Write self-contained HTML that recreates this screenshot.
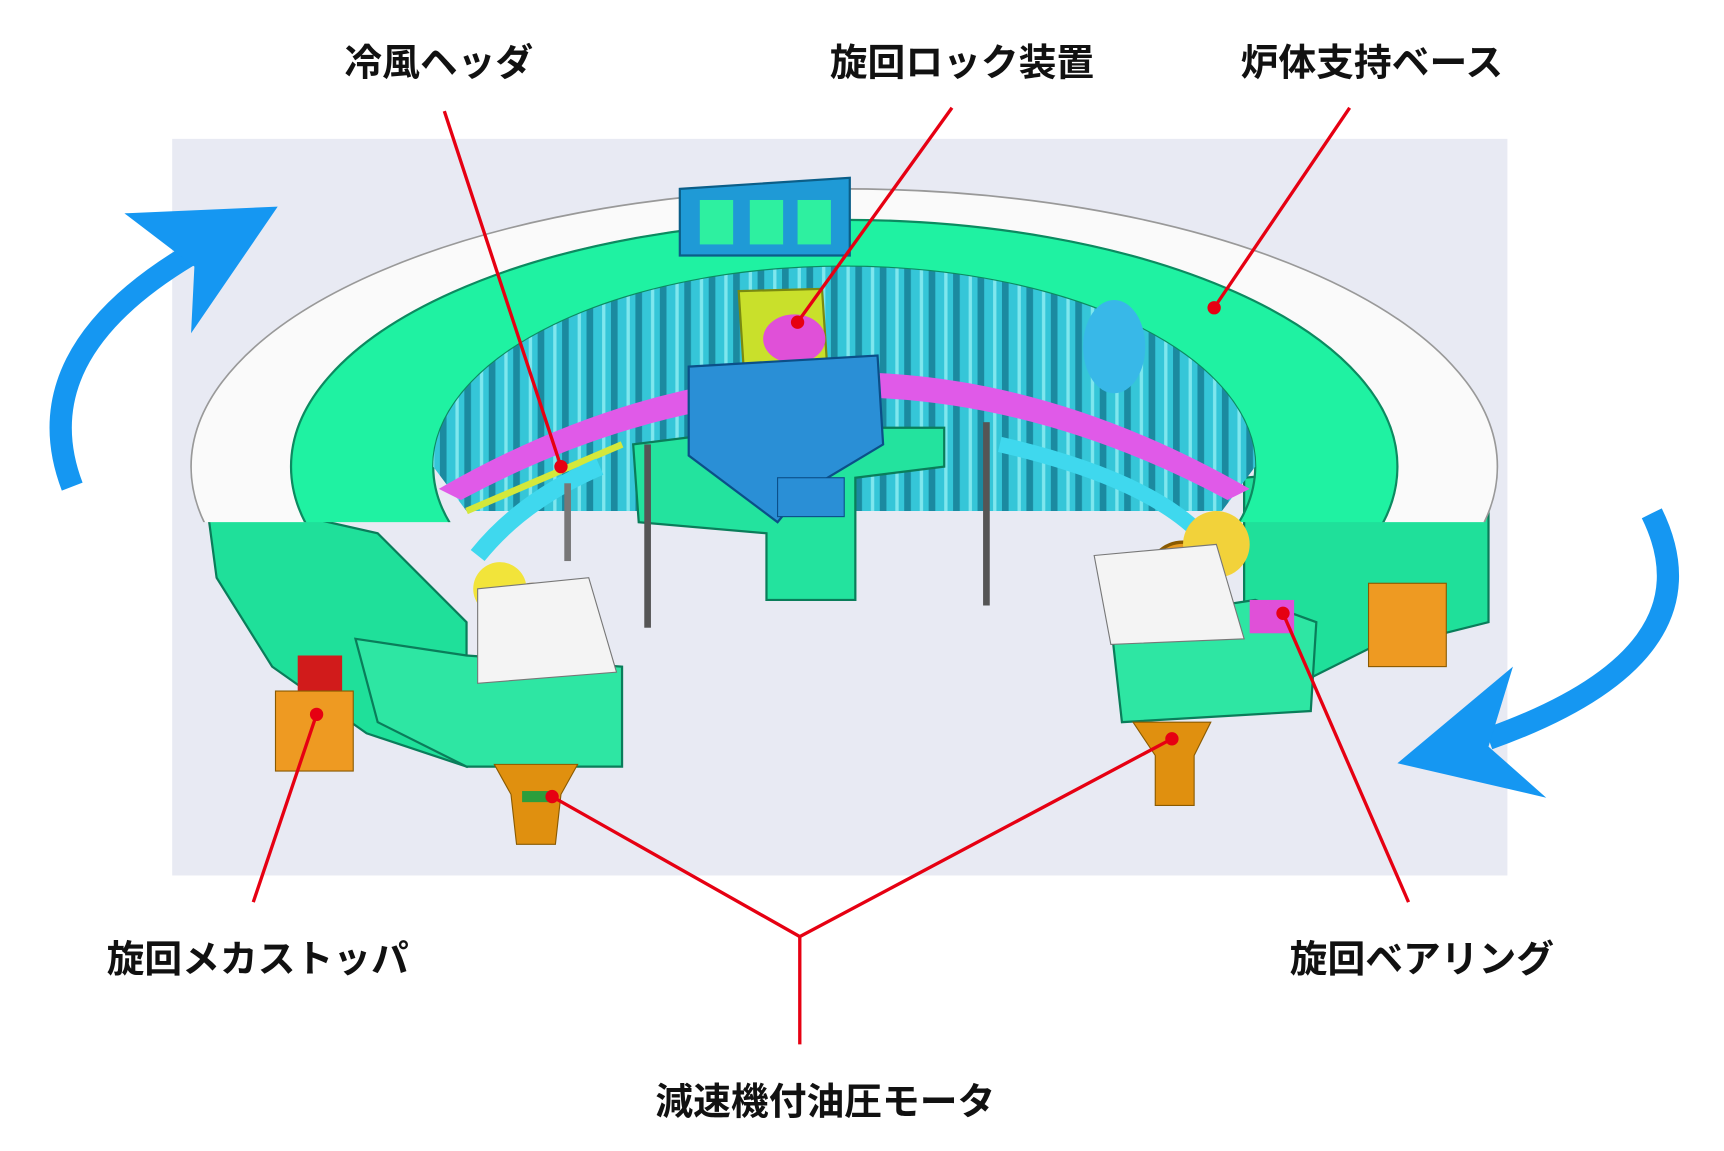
<!DOCTYPE html>
<html><head><meta charset="utf-8"><style>
html,body{margin:0;padding:0;background:#fff;}
svg{display:block;}
text{font-family:"Liberation Sans","Noto Sans CJK JP",sans-serif;font-weight:bold;font-size:34px;fill:#111;}
</style></head><body>
<svg width="1724" height="1151" viewBox="0 0 1552 1036" preserveAspectRatio="none" xmlns="http://www.w3.org/2000/svg">
<defs>
<clipPath id="top"><rect x="0" y="0" width="1552" height="470"/></clipPath>
<pattern id="ribs" width="22" height="10" patternUnits="userSpaceOnUse">
<rect width="22" height="10" fill="#35c6d8"/><rect x="0" width="6" height="10" fill="#1b8aa0"/><rect x="14" width="3" height="10" fill="#7fe7ee"/>
</pattern>
</defs>
<rect x="155" y="125" width="1202" height="663" fill="#e8eaf3"/>
<!-- lower side blocks -->
<polygon points="185,445 340,480 420,560 420,690 330,660 245,600 195,520" fill="#1fe09a" stroke="#0a7d5a" stroke-width="2"/>
<polygon points="1340,410 1340,560 1300,570 1240,580 1180,610 1120,600 1120,430" fill="#1fe09a" stroke="#0a7d5a" stroke-width="2"/>
<polygon points="320,575 420,590 560,600 560,690 420,690 340,650" fill="#2ee6a3" stroke="#0a7d5a" stroke-width="2"/>
<polygon points="1000,560 1130,540 1185,560 1180,640 1010,650" fill="#2ee6a3" stroke="#0a7d5a" stroke-width="2"/>
<!-- ring top -->
<g clip-path="url(#top)">
<path d="M172,420 A588,250 0 1,1 1348,420 A588,250 0 1,1 172,420 Z M262,420 A498,222 0 1,0 1258,420 A498,222 0 1,0 262,420 Z" fill="#fafafa" fill-rule="evenodd" stroke="#999" stroke-width="1.5"/>
<path d="M262,420 A498,222 0 1,1 1258,420 A498,222 0 1,1 262,420 Z M390,420 A370,180 0 1,0 1130,420 A370,180 0 1,0 390,420 Z" fill="#1ff2a2" fill-rule="evenodd" stroke="#0c8a60" stroke-width="2"/>
<path d="M390,420 A370,180 0 1,1 1130,420 L1100,460 L420,460 Z" fill="url(#ribs)"/>
</g>
<!-- magenta bearing ring -->
<path d="M395,440 Q760,230 1125,440 L1105,450 Q760,265 415,450 Z" fill="#e05ae8"/>
<path d="M420,460 Q560,400 560,400" stroke="#d4e83a" stroke-width="6" fill="none"/>
<!-- cyan pipes -->
<path d="M430,500 Q470,450 540,420" stroke="#3fd8ee" stroke-width="16" fill="none"/>
<path d="M900,400 Q1030,430 1080,480" stroke="#3fd8ee" stroke-width="14" fill="none"/>
<ellipse cx="1003" cy="312" rx="28" ry="42" fill="#38b8e8"/>
<!-- center blue machine -->
<polygon points="612,170 765,160 765,230 612,230" fill="#1f9ad6" stroke="#0b5e88" stroke-width="2"/>
<rect x="630" y="180" width="30" height="40" fill="#2ef0a0"/><rect x="675" y="180" width="30" height="40" fill="#2ef0a0"/><rect x="718" y="180" width="30" height="40" fill="#2ef0a0"/>
<polygon points="570,400 690,385 850,385 850,420 770,430 770,540 690,540 690,480 575,470" fill="#23e39e" stroke="#0a7d5a" stroke-width="2"/>
<polygon points="665,262 740,260 745,335 670,340" fill="#c9e02b" stroke="#7a8a10" stroke-width="2"/>
<ellipse cx="715" cy="305" rx="28" ry="22" fill="#e050d8"/>
<polygon points="620,330 790,320 795,400 720,445 700,470 620,410" fill="#2a8fd6" stroke="#0b4f88" stroke-width="2"/>
<rect x="700" y="430" width="60" height="35" fill="#2a8fd6" stroke="#0b4f88"/>
<!-- posts -->
<rect x="580" y="400" width="6" height="165" fill="#555"/><rect x="885" y="380" width="6" height="165" fill="#555"/><rect x="508" y="435" width="6" height="70" fill="#777"/>
<!-- gears -->
<circle cx="480" cy="560" r="34" fill="#e89a20" stroke="#8a5a00" stroke-width="3"/>
<circle cx="450" cy="530" r="24" fill="#f2e43a"/>
<circle cx="1065" cy="520" r="32" fill="#e89a20" stroke="#8a5a00" stroke-width="3"/>
<circle cx="1095" cy="490" r="30" fill="#f2d23a"/>
<polygon points="430,530 530,520 555,605 430,615" fill="#f4f4f4" stroke="#777"/>
<polygon points="985,500 1095,490 1120,575 1000,580" fill="#f4f4f4" stroke="#777"/>
<!-- motors -->
<path d="M445,688 L520,688 L505,715 L500,760 L465,760 L460,715 Z" fill="#e0900f" stroke="#8a5a00"/>
<rect x="470" y="712" width="30" height="10" fill="#2c9e3c"/>
<path d="M1020,650 L1090,650 L1075,680 L1075,725 L1040,725 L1040,680 Z" fill="#e0900f" stroke="#8a5a00"/>
<!-- stoppers -->
<rect x="268" y="590" width="40" height="32" fill="#d11b1b"/>
<rect x="248" y="622" width="70" height="72" fill="#ee9a22" stroke="#8a5a00"/>
<rect x="1232" y="525" width="70" height="75" fill="#ee9a22" stroke="#8a5a00"/>
<rect x="1125" y="540" width="40" height="30" fill="#e050d8"/>
<!-- blue arrows -->
<path d="M65,438 Q20,320 170,230" stroke="#1597f2" stroke-width="20" fill="none"/>
<polygon points="112,192 250,186 172,300 175,240" fill="#1597f2"/>
<path d="M1487,462 Q1550,590 1340,665" stroke="#1597f2" stroke-width="20" fill="none"/>
<polygon points="1258,687 1362,600 1340,672 1392,718" fill="#1597f2"/>
<!-- red leader lines -->
<g stroke="#e60012" stroke-width="3" fill="none">
<line x1="400" y1="100" x2="505" y2="420"/>
<line x1="857" y1="97" x2="718" y2="290"/>
<line x1="1215" y1="97" x2="1093" y2="277"/>
<line x1="228" y1="812" x2="285" y2="643"/>
<line x1="1268" y1="812" x2="1155" y2="552"/>
<polyline points="497,717 720,843 1055,665"/>
<line x1="720" y1="843" x2="720" y2="940"/>
</g>
<g fill="#e60012">
<circle cx="505" cy="420" r="6"/><circle cx="718" cy="290" r="6"/><circle cx="1093" cy="277" r="6"/>
<circle cx="285" cy="643" r="6"/><circle cx="1155" cy="552" r="6"/><circle cx="497" cy="717" r="6"/><circle cx="1055" cy="665" r="6"/>
</g>
<!-- labels -->
<text x="395" y="68" text-anchor="middle">冷風ヘッダ</text>
<text x="866" y="68" text-anchor="middle">旋回ロック装置</text>
<text x="1235" y="68" text-anchor="middle">炉体支持ベース</text>
<text x="232" y="875" text-anchor="middle">旋回メカストッパ</text>
<text x="1280" y="875" text-anchor="middle">旋回ベアリング</text>
<text x="743" y="1003" text-anchor="middle">減速機付油圧モータ</text>
</svg>
</body></html>
